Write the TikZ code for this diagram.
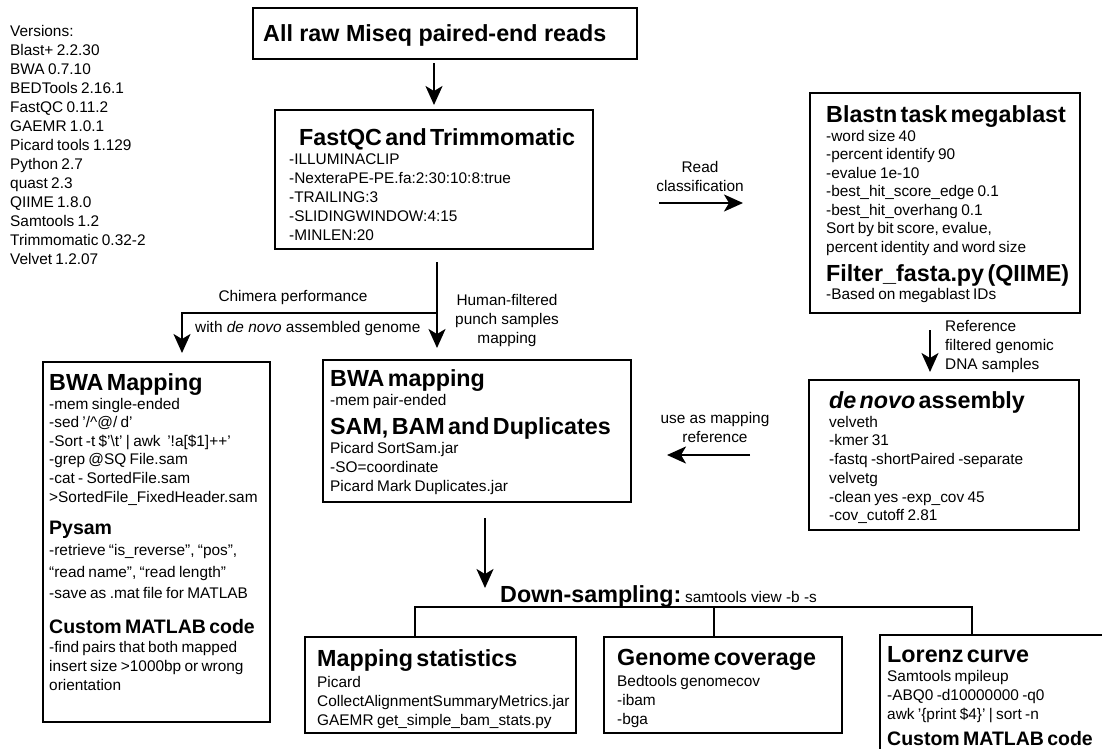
\documentclass[tikz,border=0pt]{standalone}
\usepackage{fontspec}
\setmainfont{Liberation Sans}
\usetikzlibrary{arrows.meta}
\newcommand\Ttl{\fontsize{23.3}{29}\selectfont\bfseries}
\newcommand\Bdy{\fontsize{15.4}{19}\selectfont}
\begin{document}
\begin{tikzpicture}[x=1pt,y=-1pt,
  box/.style={draw, line width=2.3pt, inner sep=0pt, outer sep=0pt, anchor=north west},
  txt/.style={inner sep=0pt, anchor=north west, align=left, text width=380pt},
  lab/.style={inner sep=0pt, align=center, font=\Bdy},
  con/.style={line width=2.1pt},
  arr/.style={con, -{Stealth[length=19pt,width=17pt,inset=5pt]}}]
\useasboundingbox (0,0) rectangle (1102,748);
\clip (0,0) rectangle (1102,748);

% boxes
\node[box, minimum width=384, minimum height=51] (raw) at (253,8) {};
\node[box, minimum width=318, minimum height=139] (fq) at (275,110) {};
\node[box, minimum width=270, minimum height=220] (bl) at (810,93) {};
\node[box, minimum width=227, minimum height=360] (bw) at (43,362) {};
\node[box, minimum width=308, minimum height=142] (bm) at (323,360) {};
\node[box, minimum width=270, minimum height=150] (dn) at (809,380) {};
\node[box, minimum width=271, minimum height=96] (ms) at (305,637) {};
\node[box, minimum width=238, minimum height=96] (gc) at (604,637) {};
\node[box, minimum width=240, minimum height=130] (lc) at (880,635) {};

% versions
\node[txt] (ver) at (10,24.8) {\Bdy Versions:\par Blast+ 2.2.30\par BWA 0.7.10\par BEDTools 2.16.1\par FastQC 0.11.2\par GAEMR 1.0.1\par Picard tools 1.129\par Python 2.7\par quast 2.3\par QIIME 1.8.0\par Samtools 1.2\par Trimmomatic 0.32-2\par Velvet 1.2.07\par};

% box texts
\node[inner sep=0pt, anchor=base west] (rawt) at (263,41) {\Ttl All raw Miseq paired-end reads};

\node[txt] (fqt) at (289,128.5) {{\Ttl\hspace*{10pt}FastQC and Trimmomatic\par}
{\Bdy -ILLUMINACLIP\par -NexteraPE-PE.fa:2:30:10:8:true\par -TRAILING:3\par -SLIDINGWINDOW:4:15\par -MINLEN:20\par}};

\node[txt] (blt) at (826,105.5) {{\Ttl Blastn task megablast\par}
{\fontsize{15.4}{18.5}\selectfont -word size 40\par -percent identify 90\par -evalue 1e-10\par -best\_hit\_score\_edge 0.1\par -best\_hit\_overhang 0.1\par Sort by bit score, evalue,\par percent identity and word size\par}
{\Ttl Filter\_fasta.py (QIIME)\par}
{\fontsize{15.4}{18.5}\selectfont -Based on megablast IDs\par}};

\node[txt] (bwt) at (49,373.5) {{\Ttl BWA Mapping\par}
{\fontsize{15.4}{18.6}\selectfont -mem single-ended\par -sed '/\textasciicircum @/ d'\par -Sort -t \$'\textbackslash t' | awk\ \ '!a[\$1]++'\par -grep @SQ File.sam\par -cat - SortedFile.sam\par >SortedFile\_FixedHeader.sam\par}
{\fontsize{19.5}{32}\selectfont\bfseries Pysam\par}
{\fontsize{15.4}{21.5}\selectfont -retrieve “is\_reverse”, “pos”,\par “read name”, “read length”\par -save as .mat file for MATLAB\par}
{\fontsize{19.5}{35}\selectfont\bfseries Custom MATLAB code\par}
{\Bdy -find pairs that both mapped\par insert size >1000bp or wrong\par orientation\par}};

\node[txt] (bmt) at (330,369.5) {{\Ttl BWA mapping\par}
{\Bdy -mem pair-ended\par}
{\Ttl SAM, BAM and Duplicates\par}
{\Bdy Picard SortSam.jar\par -SO=coordinate\par Picard Mark Duplicates.jar\par}};

\node[txt] (dnt) at (829,391.5) {{\Ttl\textit{de novo} assembly\par}
{\fontsize{15.4}{18.7}\selectfont velveth\par -kmer 31\par -fastq -shortPaired -separate\par velvetg\par -clean yes -exp\_cov 45\par -cov\_cutoff 2.81\par}};

\node[txt] (mst) at (317,649.5) {{\Ttl Mapping statistics\par}
{\Bdy\vspace*{1.5pt}Picard\par CollectAlignmentSummaryMetrics.jar\par GAEMR get\_simple\_bam\_stats.py\par}};

\node[txt] (gct) at (617,649.5) {{\Ttl Genome coverage\par}
{\Bdy\vspace*{1.5pt}Bedtools genomecov\par -ibam\par -bga\par}};

\node[txt] (lct) at (887,646.5) {{\Ttl Lorenz curve\par}
{\Bdy Samtools mpileup\par -ABQ0 -d10000000 -q0\par awk '\{print \$4\}' | sort -n\par}
{\fontsize{19.5}{26}\selectfont\bfseries Custom MATLAB code\par}};

\node[inner sep=0pt, anchor=base west] (ds) at (500,602) {{\Ttl Down-sampling:} {\Bdy samtools view -b -s}};

% labels
\node[lab, anchor=north] (rc) at (700,161.4) {Read\\classification};
\node[lab, anchor=base] (chim) at (293,301) {Chimera performance};
\node[lab, anchor=base west] (wdn) at (195,332) {with \textit{de novo} assembled genome};
\node[lab, anchor=north] (hum) at (507,294.4) {Human-filtered\\punch samples\\mapping};
\node[lab, anchor=north] (uam) at (715,412) {use as mapping\\reference};
\node[lab, align=left, anchor=north west] (rfl) at (945,320.4) {Reference\\filtered genomic\\DNA samples};

% connectors
\draw[arr, shorten <=4pt, shorten >=5pt] (raw.south -| fq.north) -- (fq.north);
\coordinate (sp) at (437,313);
\coordinate (cb) at (182,313);
\draw[arr, shorten <=13pt, shorten >=12pt] (sp |- fq.south) -- (sp |- bm.north);
\draw[arr, shorten >=9pt] (sp) -- (cb) -- (cb |- bw.north);
\coordinate (ry) at (0,203);
\draw[arr, shorten <=66pt, shorten >=67pt] (fq.east |- ry) -- (bl.west |- ry);
\coordinate (rx) at (930,0);
\draw[arr, shorten <=17pt, shorten >=8pt] (rx |- bl.south) -- (rx |- dn.north);
\coordinate (uy) at (0,455);
\draw[arr, shorten <=59pt, shorten >=36pt] (dn.west |- uy) -- (bm.east |- uy);
\coordinate (dx) at (485,588);
\draw[arr, shorten <=16pt] (dx |- bm.south) -- (dx);
\coordinate (b1) at (415,607);
\coordinate (b2) at (714,607);
\coordinate (b3) at (972,607);
\draw[con] (b1 |- ms.north) -- (b1) -- (b3) -- (b3 |- lc.north);
\draw[con] (b2) -- (b2 |- gc.north);
\end{tikzpicture}
\end{document}
